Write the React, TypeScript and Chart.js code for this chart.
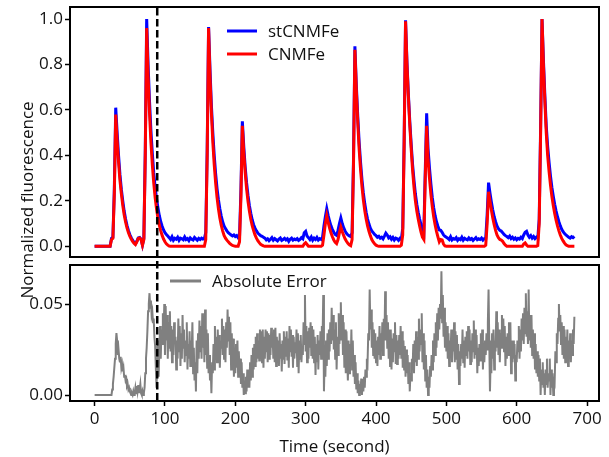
import React, { useEffect, useRef } from "react";
import { Chart, registerables } from "chart.js";

Chart.register(...registerables);

// seconds between consecutive samples (first sample at t = 0 s)
const TRACE_STEP_S = 2;
const ERROR_STEP_S = 1;

const SERIES_NAMES = ["stCNMFe", "CNMFe", "Absolute Error"];
const X_TITLE = "Time (second)";
const Y_TITLE = "Normalized fluorescence";

const X_TICKS = [0, 100, 200, 300, 400, 500, 600, 700];
const TOP_Y_TICKS = [0, 0.2, 0.4, 0.6, 0.8, 1.0];
const BOTTOM_Y_TICKS = [0, 0.05];
const MARKER_TIME = 89;

const STCNMFE = [
  0, 0, 0, 0, 0, 0, 0, 0, 0, 0,
  0, 0, 0.035, 0.04, 0.25, 0.61, 0.5, 0.4, 0.315, 0.25,
  0.2, 0.155, 0.12, 0.092, 0.07, 0.052, 0.038, 0.027, 0.018, 0.011,
  0.022, 0.037, 0.039, 0.031, 0.006, 0.035, 0.42, 1.0, 0.8, 0.64,
  0.51, 0.41, 0.325, 0.26, 0.21, 0.17, 0.135, 0.108, 0.088, 0.072,
  0.06, 0.052, 0.045, 0.038, 0.03, 0.042, 0.027, 0.035, 0.031, 0.04,
  0.026, 0.036, 0.033, 0.029, 0.041, 0.03, 0.034, 0.025, 0.037, 0.031,
  0.028, 0.039, 0.033, 0.027, 0.035, 0.03, 0.036, 0.032, 0.034, 0.06,
  0.42, 0.965, 0.78, 0.62, 0.5, 0.4, 0.32, 0.255, 0.205, 0.165,
  0.133, 0.108, 0.09, 0.078, 0.068, 0.06, 0.055, 0.05, 0.046, 0.05,
  0.043, 0.047, 0.038, 0.045, 0.25, 0.55, 0.44, 0.35, 0.28, 0.225,
  0.18, 0.145, 0.117, 0.095, 0.08, 0.068, 0.058, 0.052, 0.047, 0.044,
  0.04, 0.036, 0.028, 0.033, 0.025, 0.031, 0.038, 0.027, 0.034, 0.029,
  0.024, 0.032, 0.037, 0.026, 0.03, 0.035, 0.028, 0.033, 0.022, 0.031,
  0.036, 0.027, 0.032, 0.029, 0.034, 0.026, 0.03, 0.038, 0.033, 0.06,
  0.066, 0.045, 0.038, 0.03, 0.041, 0.027, 0.036, 0.03, 0.039, 0.028,
  0.034, 0.03, 0.04, 0.09, 0.13, 0.165, 0.135, 0.11, 0.09, 0.075,
  0.062, 0.052, 0.048, 0.07, 0.1, 0.125, 0.1, 0.082, 0.068, 0.057,
  0.05, 0.046, 0.043, 0.06, 0.38, 0.88, 0.71, 0.575, 0.46, 0.37,
  0.295, 0.235, 0.188, 0.15, 0.12, 0.098, 0.08, 0.068, 0.06, 0.052,
  0.047, 0.04, 0.044, 0.036, 0.04, 0.033, 0.045, 0.058, 0.05, 0.037,
  0.042, 0.031, 0.039, 0.028, 0.036, 0.033, 0.026, 0.035, 0.03, 0.08,
  0.46, 0.995, 0.81, 0.67, 0.55, 0.45, 0.36, 0.29, 0.23, 0.185,
  0.15, 0.12, 0.095, 0.075, 0.06, 0.33, 0.585, 0.43, 0.345, 0.275,
  0.215, 0.17, 0.135, 0.108, 0.088, 0.072, 0.07, 0.062, 0.05, 0.044,
  0.04, 0.036, 0.03, 0.042, 0.028, 0.034, 0.031, 0.038, 0.026, 0.033,
  0.029, 0.04, 0.027, 0.035, 0.031, 0.028, 0.037, 0.03, 0.034, 0.026,
  0.032, 0.038, 0.029, 0.033, 0.03, 0.036, 0.027, 0.034, 0.035, 0.14,
  0.28, 0.235, 0.195, 0.16, 0.13, 0.108, 0.09, 0.078, 0.07, 0.067,
  0.06, 0.052, 0.047, 0.043, 0.038, 0.045, 0.034, 0.04, 0.031, 0.037,
  0.029, 0.035, 0.032, 0.04, 0.034, 0.05, 0.062, 0.066, 0.05, 0.04,
  0.047, 0.036, 0.043, 0.034, 0.04, 0.036, 0.12, 0.52, 1.0, 0.82,
  0.665, 0.53, 0.44, 0.37, 0.31, 0.26, 0.22, 0.185, 0.155, 0.13,
  0.108, 0.09, 0.075, 0.064, 0.056, 0.05, 0.045, 0.04, 0.036, 0.042,
  0.038, 0.044,
];

const CNMFE = [
  0, 0, 0, 0, 0, 0, 0, 0, 0, 0,
  0, 0, 0.03, 0.035, 0.23, 0.58, 0.464, 0.371, 0.29, 0.232,
  0.18, 0.139, 0.107, 0.081, 0.061, 0.045, 0.032, 0.022, 0.014, 0.008,
  0.02, 0.035, 0.037, 0.03, 0.005, 0.03, 0.4, 0.96, 0.75, 0.59,
  0.46, 0.36, 0.28, 0.215, 0.165, 0.125, 0.093, 0.068, 0.048, 0.032,
  0.02, 0.011, 0.005, 0.001, 0, 0, 0, 0, 0, 0,
  0, 0, 0, 0, 0, 0, 0, 0, 0, 0,
  0, 0, 0, 0, 0, 0, 0, 0, 0, 0.03,
  0.4, 0.96, 0.75, 0.59, 0.46, 0.36, 0.28, 0.215, 0.165, 0.125,
  0.093, 0.068, 0.048, 0.036, 0.027, 0.02, 0.013, 0.008, 0.004, 0.002,
  0, 0, 0, 0.02, 0.22, 0.53, 0.414, 0.326, 0.254, 0.199,
  0.155, 0.119, 0.091, 0.069, 0.05, 0.036, 0.025, 0.016, 0.009, 0.005,
  0.002, 0, 0, 0, 0, 0, 0, 0, 0, 0,
  0, 0, 0, 0, 0, 0, 0, 0, 0, 0,
  0, 0, 0, 0, 0, 0, 0, 0, 0, 0.01,
  0.016, 0.008, 0, 0, 0, 0, 0, 0, 0, 0,
  0, 0, 0.005, 0.05, 0.1, 0.135, 0.105, 0.08, 0.06, 0.042,
  0.028, 0.018, 0.012, 0.03, 0.06, 0.085, 0.065, 0.048, 0.033, 0.022,
  0.013, 0.007, 0.003, 0.03, 0.36, 0.865, 0.69, 0.55, 0.43, 0.34,
  0.265, 0.205, 0.158, 0.12, 0.09, 0.066, 0.046, 0.03, 0.019, 0.011,
  0.005, 0.002, 0, 0, 0, 0, 0, 0, 0, 0,
  0, 0, 0, 0, 0, 0, 0, 0, 0.005, 0.05,
  0.45, 0.99, 0.8, 0.66, 0.535, 0.43, 0.335, 0.26, 0.2, 0.155,
  0.12, 0.09, 0.062, 0.04, 0.03, 0.3, 0.53, 0.38, 0.3, 0.23,
  0.175, 0.13, 0.095, 0.066, 0.042, 0.02, 0.03, 0.028, 0.01, 0.002,
  0, 0, 0, 0, 0, 0, 0, 0, 0, 0,
  0, 0, 0, 0, 0, 0, 0, 0, 0, 0,
  0, 0, 0, 0, 0, 0, 0, 0, 0.005, 0.1,
  0.24, 0.2, 0.16, 0.125, 0.095, 0.07, 0.05, 0.038, 0.03, 0.028,
  0.022, 0.012, 0.005, 0, 0, 0, 0, 0, 0, 0,
  0, 0, 0, 0, 0, 0.01, 0.015, 0.006, 0, 0,
  0, 0, 0, 0, 0, 0.003, 0.1, 0.5, 1.0, 0.8,
  0.64, 0.5, 0.4, 0.33, 0.27, 0.22, 0.18, 0.145, 0.115, 0.09,
  0.068, 0.05, 0.035, 0.024, 0.014, 0.007, 0.003, 0, 0, 0,
  0, 0,
];

const ABS_ERROR = [
  0, 0, 0, 0, 0, 0, 0, 0, 0, 0,
  0, 0, 0, 0, 0, 0, 0, 0, 0, 0,
  0, 0, 0, 0, 0, 0.003, 0.006, 0.01, 0.015, 0.02,
  0.028, 0.034, 0.03, 0.022, 0.025, 0.02, 0.018, 0.021, 0.015, 0.017,
  0.013, 0.015, 0.01, 0.011, 0.008, 0.009, 0.005, 0.006, 0.003, 0.004,
  0.002, 0.001, 0, 0.001, 0, 0.002, 0, 0.001, 0.004, 0.001,
  0.005, 0.002, 0.0055, 0.001, 0.003, 0.006, 0.001, 0, 0.002, 0,
  0.001, 0.004, 0.012, 0.02, 0.026, 0.035, 0.046, 0.05, 0.056, 0.048,
  0.052, 0.044, 0.046, 0.04, 0.042, 0.032, 0.027, 0.015, 0.004, 0.02,
  0.03, 0.01, 0.025, 0.038, 0.02, 0.036, 0.028, 0.045, 0.03, 0.05,
  0.022, 0.049, 0.03, 0.044, 0.02, 0.04, 0.026, 0.046, 0.024, 0.038,
  0.018, 0.036, 0.022, 0.04, 0.028, 0.032, 0.014, 0.03, 0.02, 0.042,
  0.024, 0.038, 0.016, 0.034, 0.02, 0.044, 0.026, 0.036, 0.018, 0.03,
  0.022, 0.04, 0.014, 0.028, 0.02, 0.035, 0.016, 0.03, 0.024, 0.04,
  0.012, 0.026, 0.008, 0.018, 0.002, 0.03, 0.012, 0.034, 0.02, 0.041,
  0.024, 0.038, 0.02, 0.045, 0.026, 0.04, 0.018, 0.047, 0.022, 0.036,
  0.015, 0.034, 0.012, 0.022, 0.008, 0.016, 0.001, 0.018, 0.012, 0.028,
  0.014, 0.038, 0.02, 0.032, 0.018, 0.036, 0.022, 0.033, 0.015, 0.03,
  0.026, 0.042, 0.022, 0.038, 0.02, 0.036, 0.018, 0.04, 0.026, 0.047,
  0.03, 0.043, 0.022, 0.04, 0.014, 0.034, 0.016, 0.031, 0.01, 0.026,
  0.012, 0.028, 0.015, 0.03, 0.01, 0.024, 0.012, 0.02, 0.006, 0.018,
  0.004, 0.012, 0, 0.008, 0.001, 0.01, 0.002, 0.014, 0.004, 0.012,
  0.004, 0.018, 0.008, 0.022, 0.01, 0.026, 0.014, 0.028, 0.016, 0.032,
  0.018, 0.034, 0.02, 0.03, 0.019, 0.036, 0.022, 0.035, 0.018, 0.036,
  0.015, 0.032, 0.02, 0.036, 0.024, 0.035, 0.018, 0.034, 0.02, 0.033,
  0.022, 0.037, 0.026, 0.034, 0.02, 0.036, 0.018, 0.037, 0.016, 0.032,
  0.022, 0.03, 0.016, 0.034, 0.02, 0.028, 0.013, 0.03, 0.02, 0.035,
  0.017, 0.032, 0.021, 0.035, 0.019, 0.031, 0.015, 0.038, 0.024, 0.036,
  0.021, 0.033, 0.015, 0.032, 0.02, 0.029, 0.023, 0.036, 0.016, 0.034,
  0.012, 0.03, 0.02, 0.033, 0.018, 0.027, 0.022, 0.04, 0.028, 0.055,
  0.024, 0.038, 0.018, 0.035, 0.02, 0.037, 0.026, 0.04, 0.022, 0.038,
  0.02, 0.036, 0.018, 0.032, 0.011, 0.028, 0.018, 0.033, 0.014, 0.03,
  0.022, 0.035, 0.02, 0.038, 0.03, 0.055, 0.002, 0.02, 0.01, 0.03,
  0.016, 0.034, 0.02, 0.036, 0.024, 0.04, 0.028, 0.048, 0.03, 0.044,
  0.025, 0.036, 0.02, 0.04, 0.014, 0.032, 0.022, 0.045, 0.028, 0.04,
  0.051, 0.03, 0.044, 0.022, 0.04, 0.015, 0.036, 0.012, 0.035, 0.02,
  0.008, 0.03, 0.012, 0.028, 0.018, 0.036, 0.014, 0.03, 0.01, 0.022,
  0.006, 0.018, 0.003, 0.012, 0.001, 0.008, 0, 0.006, 0.002, 0.009,
  0, 0.008, 0.002, 0.01, 0.004, 0.014, 0.01, 0.02, 0.018, 0.034,
  0.03, 0.058, 0.036, 0.047, 0.026, 0.04, 0.022, 0.036, 0.02, 0.034,
  0.018, 0.03, 0.016, 0.032, 0.022, 0.038, 0.02, 0.034, 0.025, 0.04,
  0.022, 0.042, 0.03, 0.057, 0.03, 0.044, 0.026, 0.04, 0.02, 0.036,
  0.016, 0.036, 0.014, 0.031, 0.018, 0.034, 0.024, 0.04, 0.017, 0.033,
  0.017, 0.03, 0.02, 0.033, 0.022, 0.038, 0.02, 0.035, 0.015, 0.03,
  0.014, 0.027, 0.01, 0.025, 0.012, 0.022, 0.006, 0.018, 0.002, 0.012,
  0.008, 0.02, 0.014, 0.028, 0.012, 0.03, 0.018, 0.035, 0.016, 0.032,
  0.02, 0.042, 0.024, 0.036, 0.028, 0.045, 0.018, 0.034, 0.014, 0.03,
  0.008, 0.022, 0.004, 0.014, 0, 0.01, 0.004, 0.016, 0.01, 0.022,
  0.014, 0.03, 0.018, 0.034, 0.022, 0.04, 0.026, 0.045, 0.03, 0.048,
  0.036, 0.05, 0.042, 0.068, 0.04, 0.055, 0.032, 0.048, 0.026, 0.04,
  0.024, 0.038, 0.02, 0.034, 0.016, 0.03, 0.022, 0.036, 0.018, 0.03,
  0.024, 0.04, 0.018, 0.035, 0.02, 0.033, 0.014, 0.028, 0.006, 0.024,
  0.016, 0.028, 0.02, 0.036, 0.018, 0.03, 0.015, 0.032, 0.022, 0.035,
  0.02, 0.038, 0.024, 0.036, 0.017, 0.03, 0.018, 0.034, 0.024, 0.041,
  0.02, 0.036, 0.022, 0.033, 0.012, 0.026, 0.016, 0.028, 0.019, 0.034,
  0.02, 0.036, 0.014, 0.028, 0.018, 0.03, 0.022, 0.034, 0.025, 0.04,
  0.058, 0.03, 0.002, 0.02, 0.012, 0.034, 0.02, 0.036, 0.014, 0.03,
  0.024, 0.046, 0.026, 0.04, 0.022, 0.036, 0.018, 0.034, 0.026, 0.044,
  0.03, 0.042, 0.024, 0.038, 0.016, 0.032, 0.02, 0.034, 0.022, 0.04,
  0.025, 0.04, 0.012, 0.03, 0.018, 0.03, 0.02, 0.028, 0.008, 0.022,
  0.018, 0.03, 0.024, 0.038, 0.02, 0.036, 0.024, 0.042, 0.03, 0.045,
  0.028, 0.048, 0.034, 0.056, 0.032, 0.046, 0.028, 0.058, 0.03, 0.044,
  0.026, 0.044, 0.022, 0.036, 0.02, 0.034, 0.014, 0.028, 0.012, 0.024,
  0.01, 0.022, 0.008, 0.02, 0, 0.014, 0.006, 0.018, 0.004, 0.012,
  0, 0.014, 0.006, 0.02, 0.004, 0.012, 0.008, 0.02, 0, 0.014,
  0.004, 0.012, 0, 0.01, 0.008, 0.024, 0.018, 0.034, 0.028, 0.042,
  0.05, 0.035, 0.044, 0.028, 0.04, 0.022, 0.038, 0.02, 0.036, 0.018,
  0.032, 0.02, 0.036, 0.016, 0.03, 0.02, 0.034, 0.018, 0.03, 0.022,
  0.036, 0.028, 0.043,
];

const FONT_FAMILY = "'Open Sans', 'DejaVu Sans', sans-serif";
const FONT_SIZE = 17;
const TOP_PANEL_TOP = 7;

Chart.defaults.font.family = FONT_FAMILY;
Chart.defaults.font.size = FONT_SIZE;
Chart.defaults.color = "#000";

const toPoints = (arr: number[], step: number) => arr.map((y, i) => ({ x: i * step, y }));

const framePlugin = {
  id: "frame",
  afterDraw(chart: any) {
    const { ctx, chartArea } = chart;
    const { left, top, right, bottom } = chartArea;
    ctx.save();
    ctx.strokeStyle = "#000";
    ctx.lineWidth = 2;
    ctx.strokeRect(left, top, right - left, bottom - top);
    ctx.restore();
  },
};

const drawLegend = (chart: any, x0: number, y0: number, rowGap: number, lineLen: number, lineW: number) => {
  const { ctx } = chart;
  ctx.save();
  ctx.font = `${FONT_SIZE}px ${FONT_FAMILY}`;
  ctx.textBaseline = "middle";
  ctx.textAlign = "left";
  chart.data.datasets.forEach((ds: any, i: number) => {
    const y = y0 + i * rowGap;
    ctx.strokeStyle = ds.borderColor;
    ctx.lineWidth = lineW;
    ctx.beginPath();
    ctx.moveTo(x0, y);
    ctx.lineTo(x0 + lineLen, y);
    ctx.stroke();
    ctx.fillStyle = "#111";
    ctx.fillText(ds.label, x0 + lineLen + 11, y + 1);
  });
  ctx.restore();
};

const topLegendPlugin = {
  id: "topLegend",
  afterDraw(chart: any) {
    const { chartArea } = chart;
    drawLegend(chart, chartArea.left + 157, chartArea.top + 24, 23, 30, 3);
  },
};

const bottomPlugin = {
  id: "bottomExtras",
  afterDraw(chart: any) {
    const { ctx, chartArea, scales } = chart;
    drawLegend(chart, chartArea.left + 100, chartArea.top + 16, 24, 31, 3);
    // dashed marker spanning both panels
    const x = scales.x.getPixelForValue(MARKER_TIME);
    ctx.save();
    ctx.strokeStyle = "#000";
    ctx.lineWidth = 2.5;
    ctx.setLineDash([7.5, 3.5]);
    ctx.beginPath();
    ctx.moveTo(x, TOP_PANEL_TOP + 1);
    ctx.lineTo(x, chartArea.bottom);
    ctx.stroke();
    ctx.restore();
    // shared y-axis title
    ctx.save();
    ctx.font = `${FONT_SIZE}px ${FONT_FAMILY}`;
    ctx.fillStyle = "#111";
    ctx.textAlign = "center";
    ctx.textBaseline = "alphabetic";
    ctx.translate(33, 200);
    ctx.rotate(-Math.PI / 2);
    ctx.fillText(Y_TITLE, 0, 0);
    ctx.restore();
  },
};

const yAxis = (min: number, max: number, ticks: number[], digits: number) => ({
  type: "linear",
  min,
  max,
  afterFit: (s: any) => {
    s.width = 70;
    s.paddingTop = 0;
    s.paddingBottom = 0;
  },
  afterBuildTicks: (s: any) => {
    s.ticks = ticks.map((v) => ({ value: v }));
  },
  ticks: {
    color: "#111",
    padding: 2,
    font: { size: FONT_SIZE },
    callback: (v: any) => Number(v).toFixed(digits),
  },
  grid: { drawOnChartArea: false, tickLength: 5, tickColor: "#000", tickWidth: 1.5 },
  border: { display: false },
});

export default function App() {
  const topRef = useRef<HTMLCanvasElement>(null);
  const botRef = useRef<HTMLCanvasElement>(null);

  useEffect(() => {
    const topChart = new Chart(topRef.current as HTMLCanvasElement, {
      type: "line",
      data: {
        datasets: [
          {
            label: SERIES_NAMES[0],
            data: toPoints(STCNMFE, TRACE_STEP_S),
            borderColor: "#0000ff",
            borderWidth: 3,
            pointRadius: 0,
            tension: 0,
            fill: false,
            order: 1,
          },
          {
            label: SERIES_NAMES[1],
            data: toPoints(CNMFE, TRACE_STEP_S),
            borderColor: "#ff0000",
            borderWidth: 3,
            pointRadius: 0,
            tension: 0,
            fill: false,
            order: 0,
          },
        ],
      },
      options: {
        responsive: false,
        animation: false,
        events: [],
        layout: { padding: { top: TOP_PANEL_TOP, right: 10, bottom: 200, left: 0 } },
        plugins: { legend: { display: false }, tooltip: { enabled: false } },
        scales: {
          x: { type: "linear", min: -35, max: 717, display: false },
          y: yAxis(-0.047, 1.053, TOP_Y_TICKS, 1),
        },
      } as any,
      plugins: [framePlugin, topLegendPlugin],
    } as any);

    const botChart = new Chart(botRef.current as HTMLCanvasElement, {
      type: "line",
      data: {
        datasets: [
          {
            label: SERIES_NAMES[2],
            data: toPoints(ABS_ERROR, ERROR_STEP_S),
            borderColor: "#808080",
            borderWidth: 2,
            pointRadius: 0,
            tension: 0,
            fill: false,
          },
        ],
      },
      options: {
        responsive: false,
        animation: false,
        events: [],
        layout: { padding: { top: 265, right: 10, bottom: 0, left: 0 } },
        plugins: { legend: { display: false }, tooltip: { enabled: false } },
        scales: {
          x: {
            type: "linear",
            min: -35,
            max: 717,
            afterFit: (s: any) => {
              s.height = 56;
              s.paddingLeft = 0;
              s.paddingRight = 0;
            },
            afterBuildTicks: (s: any) => {
              s.ticks = X_TICKS.map((v) => ({ value: v }));
            },
            ticks: { color: "#111", padding: 3, maxRotation: 0, autoSkip: false, font: { size: FONT_SIZE } },
            grid: { drawOnChartArea: false, tickLength: 5, tickColor: "#000", tickWidth: 1.5 },
            border: { display: false },
            title: {
              display: true,
              text: X_TITLE,
              color: "#111",
              font: { size: FONT_SIZE },
              padding: { top: 0, bottom: 0 },
            },
          },
          y: yAxis(-0.0033, 0.0715, BOTTOM_Y_TICKS, 2),
        },
      } as any,
      plugins: [framePlugin, bottomPlugin],
    } as any);

    return () => {
      topChart.destroy();
      botChart.destroy();
    };
  }, []);

  return (
    <div style={{ position: "absolute", left: 0, top: 0, width: 609, height: 457, background: "#fff" }}>
      <canvas ref={topRef} width={609} height={457} style={{ position: "absolute", left: 0, top: 0 }} />
      <canvas ref={botRef} width={609} height={457} style={{ position: "absolute", left: 0, top: 0 }} />
    </div>
  );
}
